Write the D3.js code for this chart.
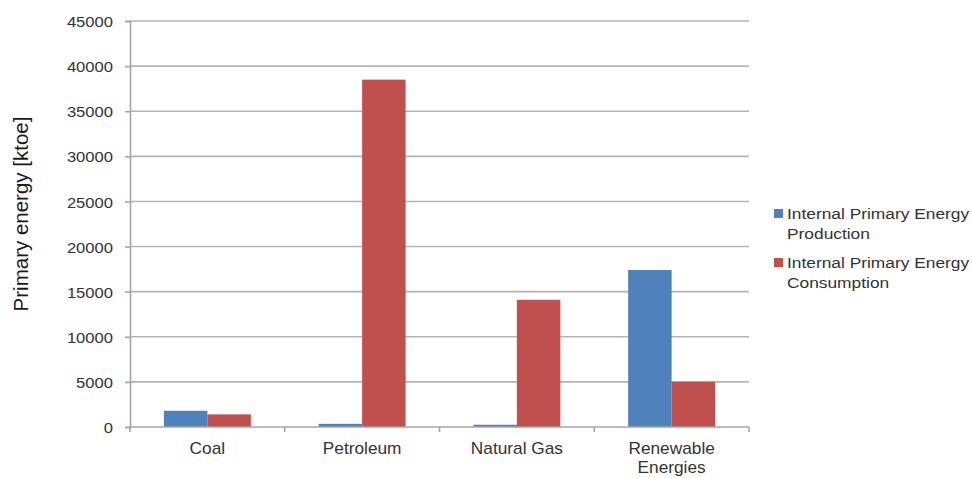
<!DOCTYPE html>
<html>
<head>
<meta charset="utf-8">
<script src="https://cdn.jsdelivr.net/npm/d3@7"></script>
<style>
  html, body { margin: 0; padding: 0; background: #fff; }
  svg { display: block; font-family: "Liberation Sans", Arial, sans-serif; }
</style>
</head>
<body>
<svg id="chart" width="972" height="478"></svg>
<script>
// Primary energy balance by source, in ktoe
const categories = ["Coal", "Petroleum", "Natural Gas", "Renewable Energies"];
const categoryLines = [["Coal"], ["Petroleum"], ["Natural Gas"], ["Renewable", "Energies"]];
const seriesNames = ["Internal Primary Energy Production", "Internal Primary Energy Consumption"];
const legendLines = [["Internal Primary Energy", "Production"], ["Internal Primary Energy", "Consumption"]];
const production = [1800, 350, 250, 17400];
const consumption = [1400, 38500, 14100, 5000];
const yTicks = [0, 5000, 10000, 15000, 20000, 25000, 30000, 35000, 40000, 45000];
const yTitle = "Primary energy [ktoe]";
const colors = ["#4f81bd", "#c0504d"];

const svg = d3.select("#chart");
const plot = { left: 130, right: 749, top: 21, bottom: 427 };

const x0 = d3.scaleBand().domain(categories).range([plot.left, plot.right]).padding(0);
const x1 = d3.scaleBand().domain(seriesNames).range([0, x0.bandwidth()])
  .paddingInner(0).paddingOuter(0.78);
const y = d3.scaleLinear().domain([0, 45000]).range([plot.bottom, plot.top]);

// horizontal gridlines
svg.append("g").selectAll("line").data(yTicks.filter(d => d > 0)).join("line")
  .attr("x1", plot.left).attr("x2", plot.right)
  .attr("y1", d => y(d)).attr("y2", d => y(d))
  .attr("stroke", "#b4b4b4").attr("stroke-width", 1.6);

// bars
const rows = categories.map((c, i) => ({ cat: c, vals: [production[i], consumption[i]] }));
svg.append("g").selectAll("g").data(rows).join("g")
  .attr("transform", d => `translate(${x0(d.cat)},0)`)
  .selectAll("rect").data(d => d.vals.map((v, k) => ({ key: seriesNames[k], v, k }))).join("rect")
  .attr("x", d => x1(d.key))
  .attr("width", x1.bandwidth())
  .attr("y", d => y(d.v))
  .attr("height", d => y(0) - y(d.v))
  .attr("fill", d => colors[d.k]);

// y axis
const yAxis = svg.append("g").attr("transform", `translate(${plot.left},0)`)
  .call(d3.axisLeft(y).tickValues(yTicks).tickSize(5).tickPadding(12).tickFormat(d3.format("d")));
yAxis.select(".domain").attr("stroke", "#a6a6a6").attr("stroke-width", 1.6);
yAxis.selectAll(".tick line").attr("stroke", "#a6a6a6").attr("stroke-width", 1.6);
yAxis.selectAll(".tick text")
  .attr("fill", "#333").attr("font-size", 15.5).attr("dy", "0.36em")
  .attr("transform", "scale(1.07,1)")
  .attr("x", -17 / 1.07)
  .style("font-family", "'Liberation Sans', Arial, sans-serif");

// x axis line with boundary ticks
const xg = svg.append("g");
xg.append("line").attr("x1", plot.left).attr("x2", plot.right)
  .attr("y1", plot.bottom).attr("y2", plot.bottom)
  .attr("stroke", "#a6a6a6").attr("stroke-width", 1.6);
const bounds = categories.map(c => x0(c)).concat([x0(categories[categories.length - 1]) + x0.bandwidth()]);
xg.selectAll("line.tk").data(bounds).join("line").attr("class", "tk")
  .attr("x1", d => d).attr("x2", d => d)
  .attr("y1", plot.bottom).attr("y2", plot.bottom + 5)
  .attr("stroke", "#a6a6a6").attr("stroke-width", 1.6);

// category labels
categories.forEach((c, i) => {
  const cx = x0(c) + x0.bandwidth() / 2;
  categoryLines[i].forEach((line, j) => {
    svg.append("text")
      .attr("transform", `translate(${cx},${454 + j * 18.5}) scale(1.08,1)`)
      .attr("text-anchor", "middle")
      .attr("font-size", 16)
      .attr("fill", "#333")
      .text(line);
  });
});

// y axis title
svg.append("text")
  .attr("transform", "translate(28,214) rotate(-90)")
  .attr("text-anchor", "middle")
  .attr("font-size", 20.5)
  .attr("fill", "#1a1a1a")
  .text(yTitle);

// legend
legendLines.forEach((lines, k) => {
  const top = 209 + k * 49;
  svg.append("rect").attr("x", 774).attr("y", top).attr("width", 9).attr("height", 9)
    .attr("fill", colors[k]);
  lines.forEach((line, j) => {
    svg.append("text")
      .attr("transform", `translate(787,${top + 10 + j * 19.5}) scale(1.12,1)`)
      .attr("font-size", 15.5)
      .attr("fill", "#333")
      .text(line);
  });
});
</script>
</body>
</html>
